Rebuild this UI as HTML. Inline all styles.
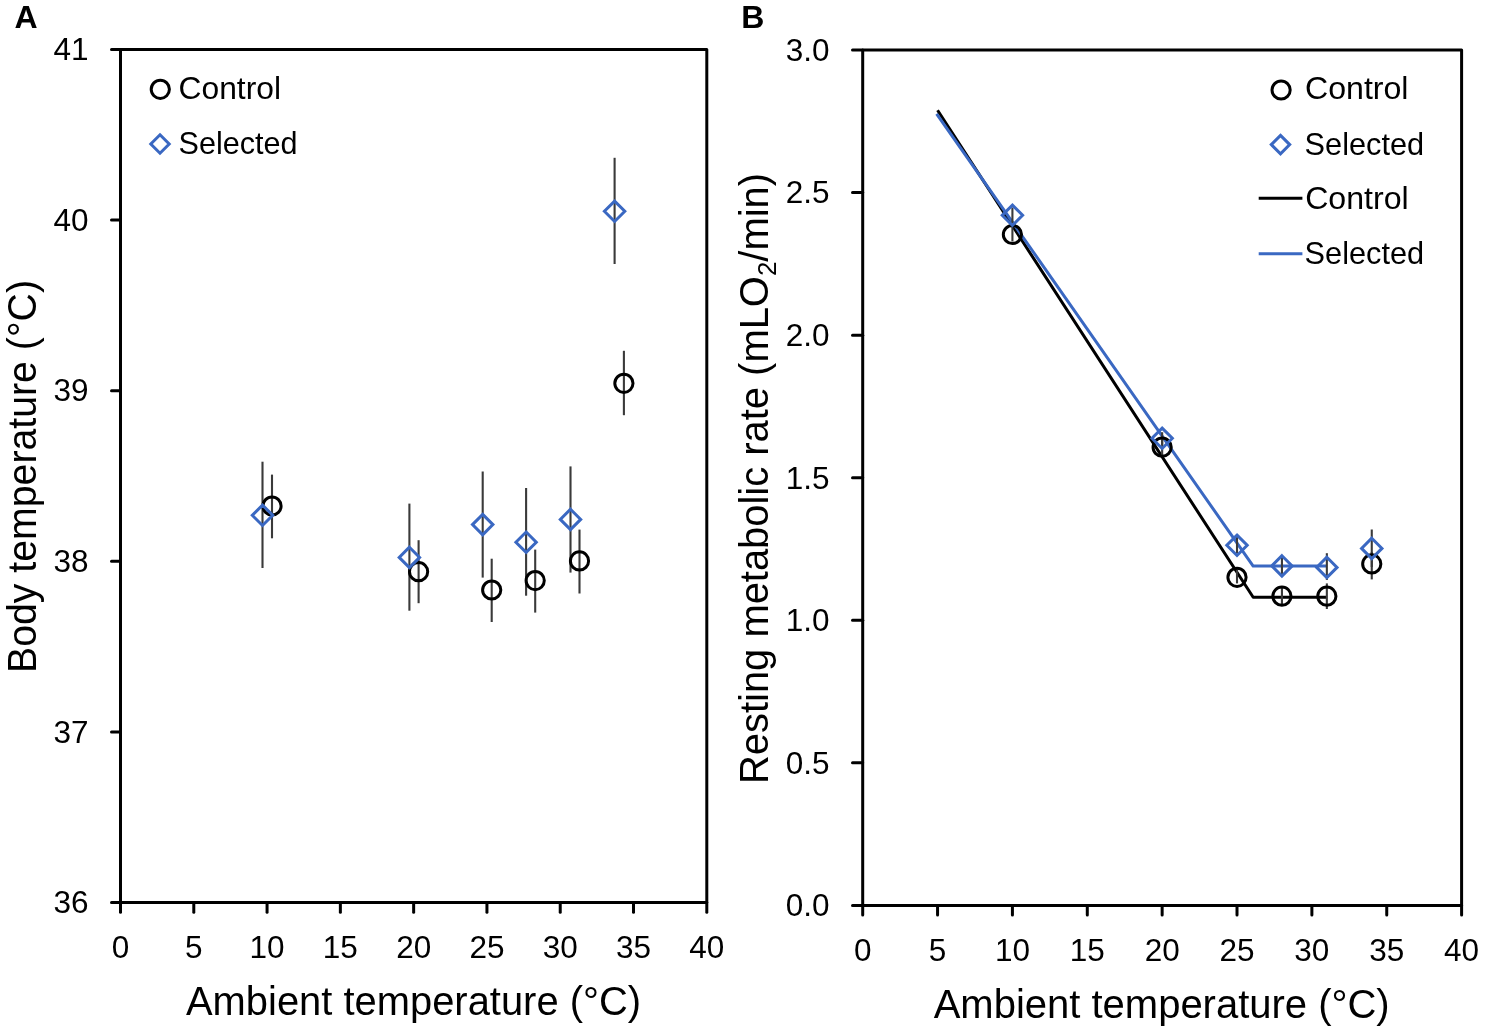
<!DOCTYPE html>
<html><head><meta charset="utf-8"><style>
html,body{margin:0;padding:0;background:#fff;overflow:hidden}
svg{display:block;will-change:transform}
text{font-family:"Liberation Sans", sans-serif;fill:#000}
</style></head><body>
<svg width="1485" height="1033" viewBox="0 0 1485 1033">
<rect width="1485" height="1033" fill="#fff"/>
<text x="14.5" y="28.4" font-size="32" text-anchor="start" font-weight="bold" >A</text>
<text x="741.2" y="28.4" font-size="32" text-anchor="start" font-weight="bold" >B</text>
<path d="M120.5 49.4H706.8V902.5H120.5Z" fill="none" stroke="#000" stroke-width="3" stroke-linejoin="round"/>
<line x1="111.5" y1="902.5" x2="120.5" y2="902.5" stroke="#000" stroke-width="3" stroke-linecap="round"/>
<text x="88.5" y="913.3" font-size="31.5" text-anchor="end" font-weight="normal" >36</text>
<line x1="111.5" y1="731.88" x2="120.5" y2="731.88" stroke="#000" stroke-width="3" stroke-linecap="round"/>
<text x="88.5" y="742.68" font-size="31.5" text-anchor="end" font-weight="normal" >37</text>
<line x1="111.5" y1="561.26" x2="120.5" y2="561.26" stroke="#000" stroke-width="3" stroke-linecap="round"/>
<text x="88.5" y="572.06" font-size="31.5" text-anchor="end" font-weight="normal" >38</text>
<line x1="111.5" y1="390.64" x2="120.5" y2="390.64" stroke="#000" stroke-width="3" stroke-linecap="round"/>
<text x="88.5" y="401.44" font-size="31.5" text-anchor="end" font-weight="normal" >39</text>
<line x1="111.5" y1="220.02" x2="120.5" y2="220.02" stroke="#000" stroke-width="3" stroke-linecap="round"/>
<text x="88.5" y="230.82" font-size="31.5" text-anchor="end" font-weight="normal" >40</text>
<line x1="111.5" y1="49.4" x2="120.5" y2="49.4" stroke="#000" stroke-width="3" stroke-linecap="round"/>
<text x="88.5" y="60.2" font-size="31.5" text-anchor="end" font-weight="normal" >41</text>
<line x1="120.5" y1="902.5" x2="120.5" y2="912.2" stroke="#000" stroke-width="3" stroke-linecap="round"/>
<text x="120.5" y="958.4" font-size="31.5" text-anchor="middle" font-weight="normal" >0</text>
<line x1="193.79" y1="902.5" x2="193.79" y2="912.2" stroke="#000" stroke-width="3" stroke-linecap="round"/>
<text x="193.79" y="958.4" font-size="31.5" text-anchor="middle" font-weight="normal" >5</text>
<line x1="267.07" y1="902.5" x2="267.07" y2="912.2" stroke="#000" stroke-width="3" stroke-linecap="round"/>
<text x="267.07" y="958.4" font-size="31.5" text-anchor="middle" font-weight="normal" >10</text>
<line x1="340.36" y1="902.5" x2="340.36" y2="912.2" stroke="#000" stroke-width="3" stroke-linecap="round"/>
<text x="340.36" y="958.4" font-size="31.5" text-anchor="middle" font-weight="normal" >15</text>
<line x1="413.65" y1="902.5" x2="413.65" y2="912.2" stroke="#000" stroke-width="3" stroke-linecap="round"/>
<text x="413.65" y="958.4" font-size="31.5" text-anchor="middle" font-weight="normal" >20</text>
<line x1="486.94" y1="902.5" x2="486.94" y2="912.2" stroke="#000" stroke-width="3" stroke-linecap="round"/>
<text x="486.94" y="958.4" font-size="31.5" text-anchor="middle" font-weight="normal" >25</text>
<line x1="560.23" y1="902.5" x2="560.23" y2="912.2" stroke="#000" stroke-width="3" stroke-linecap="round"/>
<text x="560.23" y="958.4" font-size="31.5" text-anchor="middle" font-weight="normal" >30</text>
<line x1="633.51" y1="902.5" x2="633.51" y2="912.2" stroke="#000" stroke-width="3" stroke-linecap="round"/>
<text x="633.51" y="958.4" font-size="31.5" text-anchor="middle" font-weight="normal" >35</text>
<line x1="706.8" y1="902.5" x2="706.8" y2="912.2" stroke="#000" stroke-width="3" stroke-linecap="round"/>
<text x="706.8" y="958.4" font-size="31.5" text-anchor="middle" font-weight="normal" >40</text>
<line x1="262.5" y1="461.7" x2="262.5" y2="568" stroke="#3a3a3a" stroke-width="2.1" stroke-linecap="butt"/>
<line x1="409.4" y1="503.6" x2="409.4" y2="610.7" stroke="#3a3a3a" stroke-width="2.1" stroke-linecap="butt"/>
<line x1="482.7" y1="471.5" x2="482.7" y2="577.6" stroke="#3a3a3a" stroke-width="2.1" stroke-linecap="butt"/>
<line x1="526.1" y1="488" x2="526.1" y2="595.7" stroke="#3a3a3a" stroke-width="2.1" stroke-linecap="butt"/>
<line x1="570.5" y1="466.4" x2="570.5" y2="572.6" stroke="#3a3a3a" stroke-width="2.1" stroke-linecap="butt"/>
<line x1="614.6" y1="157.8" x2="614.6" y2="264" stroke="#3a3a3a" stroke-width="2.1" stroke-linecap="butt"/>
<line x1="272" y1="474.6" x2="272" y2="538.3" stroke="#3a3a3a" stroke-width="2.1" stroke-linecap="butt"/>
<line x1="418.6" y1="540.2" x2="418.6" y2="603.2" stroke="#3a3a3a" stroke-width="2.1" stroke-linecap="butt"/>
<line x1="491.7" y1="558.7" x2="491.7" y2="622" stroke="#3a3a3a" stroke-width="2.1" stroke-linecap="butt"/>
<line x1="535.2" y1="549.6" x2="535.2" y2="612.6" stroke="#3a3a3a" stroke-width="2.1" stroke-linecap="butt"/>
<line x1="579.5" y1="529.6" x2="579.5" y2="593.5" stroke="#3a3a3a" stroke-width="2.1" stroke-linecap="butt"/>
<line x1="623.9" y1="350.8" x2="623.9" y2="415.2" stroke="#3a3a3a" stroke-width="2.1" stroke-linecap="butt"/>
<circle cx="272" cy="506" r="9.1" fill="none" stroke="#000" stroke-width="3"/>
<circle cx="418.6" cy="571.7" r="9.1" fill="none" stroke="#000" stroke-width="3"/>
<circle cx="491.7" cy="590" r="9.1" fill="none" stroke="#000" stroke-width="3"/>
<circle cx="535.2" cy="580.6" r="9.1" fill="none" stroke="#000" stroke-width="3"/>
<circle cx="579.5" cy="560.9" r="9.1" fill="none" stroke="#000" stroke-width="3"/>
<circle cx="623.9" cy="383.3" r="9.1" fill="none" stroke="#000" stroke-width="3"/>
<path d="M262.5 505.1L272.7 515.3L262.5 525.5L252.3 515.3Z" fill="none" stroke="#3A68C2" stroke-width="3" stroke-linejoin="miter"/>
<path d="M409.4 547.2L419.6 557.4L409.4 567.6L399.2 557.4Z" fill="none" stroke="#3A68C2" stroke-width="3" stroke-linejoin="miter"/>
<path d="M482.7 514.4L492.9 524.6L482.7 534.8L472.5 524.6Z" fill="none" stroke="#3A68C2" stroke-width="3" stroke-linejoin="miter"/>
<path d="M526.1 532L536.3 542.2L526.1 552.4L515.9 542.2Z" fill="none" stroke="#3A68C2" stroke-width="3" stroke-linejoin="miter"/>
<path d="M570.5 509.2L580.7 519.4L570.5 529.6L560.3 519.4Z" fill="none" stroke="#3A68C2" stroke-width="3" stroke-linejoin="miter"/>
<path d="M614.6 201.1L624.8 211.3L614.6 221.5L604.4 211.3Z" fill="none" stroke="#3A68C2" stroke-width="3" stroke-linejoin="miter"/>
<circle cx="160.3" cy="89.3" r="9.1" fill="none" stroke="#000" stroke-width="3"/>
<text x="178.5" y="99.1" font-size="30.5" text-anchor="start" font-weight="normal" textLength="102.5" lengthAdjust="spacingAndGlyphs">Control</text>
<path d="M160 134.8L169.2 144L160 153.2L150.8 144Z" fill="none" stroke="#3A68C2" stroke-width="3" stroke-linejoin="miter"/>
<text x="178.5" y="153.7" font-size="30.5" text-anchor="start" font-weight="normal" textLength="119" lengthAdjust="spacingAndGlyphs">Selected</text>
<text x="186" y="1015.4" font-size="40" text-anchor="start" font-weight="normal" textLength="455" lengthAdjust="spacingAndGlyphs">Ambient temperature (°C)</text>
<text transform="translate(36 673) rotate(-90)" x="0" y="0" font-size="40" textLength="393" lengthAdjust="spacingAndGlyphs">Body temperature (°C)</text>
<path d="M862.7 50H1461.6V905.4H862.7Z" fill="none" stroke="#000" stroke-width="3" stroke-linejoin="round"/>
<line x1="852.5" y1="905.4" x2="862.7" y2="905.4" stroke="#000" stroke-width="3" stroke-linecap="round"/>
<text x="829.5" y="916.3" font-size="31.5" text-anchor="end" font-weight="normal" >0.0</text>
<line x1="852.5" y1="762.83" x2="862.7" y2="762.83" stroke="#000" stroke-width="3" stroke-linecap="round"/>
<text x="829.5" y="773.73" font-size="31.5" text-anchor="end" font-weight="normal" >0.5</text>
<line x1="852.5" y1="620.27" x2="862.7" y2="620.27" stroke="#000" stroke-width="3" stroke-linecap="round"/>
<text x="829.5" y="631.17" font-size="31.5" text-anchor="end" font-weight="normal" >1.0</text>
<line x1="852.5" y1="477.7" x2="862.7" y2="477.7" stroke="#000" stroke-width="3" stroke-linecap="round"/>
<text x="829.5" y="488.6" font-size="31.5" text-anchor="end" font-weight="normal" >1.5</text>
<line x1="852.5" y1="335.13" x2="862.7" y2="335.13" stroke="#000" stroke-width="3" stroke-linecap="round"/>
<text x="829.5" y="346.03" font-size="31.5" text-anchor="end" font-weight="normal" >2.0</text>
<line x1="852.5" y1="192.57" x2="862.7" y2="192.57" stroke="#000" stroke-width="3" stroke-linecap="round"/>
<text x="829.5" y="203.47" font-size="31.5" text-anchor="end" font-weight="normal" >2.5</text>
<line x1="852.5" y1="50" x2="862.7" y2="50" stroke="#000" stroke-width="3" stroke-linecap="round"/>
<text x="829.5" y="60.9" font-size="31.5" text-anchor="end" font-weight="normal" >3.0</text>
<line x1="862.7" y1="905.4" x2="862.7" y2="915.1" stroke="#000" stroke-width="3" stroke-linecap="round"/>
<text x="862.7" y="960.6" font-size="31.5" text-anchor="middle" font-weight="normal" >0</text>
<line x1="937.56" y1="905.4" x2="937.56" y2="915.1" stroke="#000" stroke-width="3" stroke-linecap="round"/>
<text x="937.56" y="960.6" font-size="31.5" text-anchor="middle" font-weight="normal" >5</text>
<line x1="1012.42" y1="905.4" x2="1012.42" y2="915.1" stroke="#000" stroke-width="3" stroke-linecap="round"/>
<text x="1012.42" y="960.6" font-size="31.5" text-anchor="middle" font-weight="normal" >10</text>
<line x1="1087.29" y1="905.4" x2="1087.29" y2="915.1" stroke="#000" stroke-width="3" stroke-linecap="round"/>
<text x="1087.29" y="960.6" font-size="31.5" text-anchor="middle" font-weight="normal" >15</text>
<line x1="1162.15" y1="905.4" x2="1162.15" y2="915.1" stroke="#000" stroke-width="3" stroke-linecap="round"/>
<text x="1162.15" y="960.6" font-size="31.5" text-anchor="middle" font-weight="normal" >20</text>
<line x1="1237.01" y1="905.4" x2="1237.01" y2="915.1" stroke="#000" stroke-width="3" stroke-linecap="round"/>
<text x="1237.01" y="960.6" font-size="31.5" text-anchor="middle" font-weight="normal" >25</text>
<line x1="1311.88" y1="905.4" x2="1311.88" y2="915.1" stroke="#000" stroke-width="3" stroke-linecap="round"/>
<text x="1311.88" y="960.6" font-size="31.5" text-anchor="middle" font-weight="normal" >30</text>
<line x1="1386.74" y1="905.4" x2="1386.74" y2="915.1" stroke="#000" stroke-width="3" stroke-linecap="round"/>
<text x="1386.74" y="960.6" font-size="31.5" text-anchor="middle" font-weight="normal" >35</text>
<line x1="1461.6" y1="905.4" x2="1461.6" y2="915.1" stroke="#000" stroke-width="3" stroke-linecap="round"/>
<text x="1461.6" y="960.6" font-size="31.5" text-anchor="middle" font-weight="normal" >40</text>
<polyline points="937.56,110.2 1253.18,597.3 1326.85,597.3" fill="none" stroke="#000" stroke-width="3" stroke-linejoin="round"/>
<polyline points="936.6,113.9 1253.18,566.1 1326.85,566.1" fill="none" stroke="#3A68C2" stroke-width="3" stroke-linejoin="round"/>
<line x1="1012.42" y1="207.5" x2="1012.42" y2="223" stroke="#3a3a3a" stroke-width="2.1" stroke-linecap="butt"/>
<line x1="1162.15" y1="432.2" x2="1162.15" y2="445" stroke="#3a3a3a" stroke-width="2.1" stroke-linecap="butt"/>
<line x1="1237.01" y1="537" x2="1237.01" y2="553.5" stroke="#3a3a3a" stroke-width="2.1" stroke-linecap="butt"/>
<line x1="1281.93" y1="557.8" x2="1281.93" y2="574" stroke="#3a3a3a" stroke-width="2.1" stroke-linecap="butt"/>
<line x1="1326.85" y1="553.2" x2="1326.85" y2="579.9" stroke="#3a3a3a" stroke-width="2.1" stroke-linecap="butt"/>
<line x1="1371.76" y1="529.5" x2="1371.76" y2="567" stroke="#3a3a3a" stroke-width="2.1" stroke-linecap="butt"/>
<line x1="1012.42" y1="226" x2="1012.42" y2="241.5" stroke="#3a3a3a" stroke-width="2.1" stroke-linecap="butt"/>
<line x1="1162.15" y1="440" x2="1162.15" y2="455" stroke="#3a3a3a" stroke-width="2.1" stroke-linecap="butt"/>
<line x1="1237.01" y1="569.3" x2="1237.01" y2="583.4" stroke="#3a3a3a" stroke-width="2.1" stroke-linecap="butt"/>
<line x1="1281.93" y1="586.8" x2="1281.93" y2="604.3" stroke="#3a3a3a" stroke-width="2.1" stroke-linecap="butt"/>
<line x1="1326.85" y1="583.4" x2="1326.85" y2="609" stroke="#3a3a3a" stroke-width="2.1" stroke-linecap="butt"/>
<line x1="1371.76" y1="552" x2="1371.76" y2="579.4" stroke="#3a3a3a" stroke-width="2.1" stroke-linecap="butt"/>
<circle cx="1012.42" cy="234.5" r="9.1" fill="none" stroke="#000" stroke-width="3"/>
<circle cx="1162.15" cy="447.2" r="9.1" fill="none" stroke="#000" stroke-width="3"/>
<circle cx="1237.01" cy="577.3" r="9.1" fill="none" stroke="#000" stroke-width="3"/>
<circle cx="1281.93" cy="596.2" r="9.1" fill="none" stroke="#000" stroke-width="3"/>
<circle cx="1326.85" cy="596.2" r="9.1" fill="none" stroke="#000" stroke-width="3"/>
<circle cx="1371.76" cy="563.9" r="9.1" fill="none" stroke="#000" stroke-width="3"/>
<path d="M1012.42 205.1L1022.62 215.3L1012.42 225.5L1002.22 215.3Z" fill="none" stroke="#3A68C2" stroke-width="3" stroke-linejoin="miter"/>
<path d="M1162.15 428.1L1172.35 438.3L1162.15 448.5L1151.95 438.3Z" fill="none" stroke="#3A68C2" stroke-width="3" stroke-linejoin="miter"/>
<path d="M1237.01 535.1L1247.21 545.3L1237.01 555.5L1226.81 545.3Z" fill="none" stroke="#3A68C2" stroke-width="3" stroke-linejoin="miter"/>
<path d="M1281.93 555.7L1292.13 565.9L1281.93 576.1L1271.73 565.9Z" fill="none" stroke="#3A68C2" stroke-width="3" stroke-linejoin="miter"/>
<path d="M1326.85 557.2L1337.05 567.4L1326.85 577.6L1316.65 567.4Z" fill="none" stroke="#3A68C2" stroke-width="3" stroke-linejoin="miter"/>
<path d="M1371.76 538.2L1381.96 548.4L1371.76 558.6L1361.56 548.4Z" fill="none" stroke="#3A68C2" stroke-width="3" stroke-linejoin="miter"/>
<circle cx="1281.1" cy="90" r="9.1" fill="none" stroke="#000" stroke-width="3"/>
<text x="1305" y="99.3" font-size="30.5" text-anchor="start" font-weight="normal" textLength="103.5" lengthAdjust="spacingAndGlyphs">Control</text>
<path d="M1280.5 135.4L1289.7 144.6L1280.5 153.8L1271.3 144.6Z" fill="none" stroke="#3A68C2" stroke-width="3" stroke-linejoin="miter"/>
<text x="1304.6" y="154.5" font-size="30.5" text-anchor="start" font-weight="normal" textLength="119.5" lengthAdjust="spacingAndGlyphs">Selected</text>
<line x1="1258.7" y1="198.2" x2="1302.4" y2="198.2" stroke="#000" stroke-width="3" stroke-linecap="butt"/>
<text x="1305.2" y="208.6" font-size="30.5" text-anchor="start" font-weight="normal" textLength="103.5" lengthAdjust="spacingAndGlyphs">Control</text>
<line x1="1258.7" y1="253.8" x2="1302.4" y2="253.8" stroke="#3A68C2" stroke-width="3" stroke-linecap="butt"/>
<text x="1304.6" y="263.8" font-size="30.5" text-anchor="start" font-weight="normal" textLength="119.5" lengthAdjust="spacingAndGlyphs">Selected</text>
<text x="933.7" y="1017.9" font-size="40" text-anchor="start" font-weight="normal" textLength="456" lengthAdjust="spacingAndGlyphs">Ambient temperature (°C)</text>
<text transform="translate(768.4 784) rotate(-90)" x="0" y="0" font-size="40" textLength="611" lengthAdjust="spacingAndGlyphs">Resting metabolic rate (mLO<tspan font-size="26" dy="8">2</tspan><tspan dy="-8">/min)</tspan></text>
</svg>
</body></html>
